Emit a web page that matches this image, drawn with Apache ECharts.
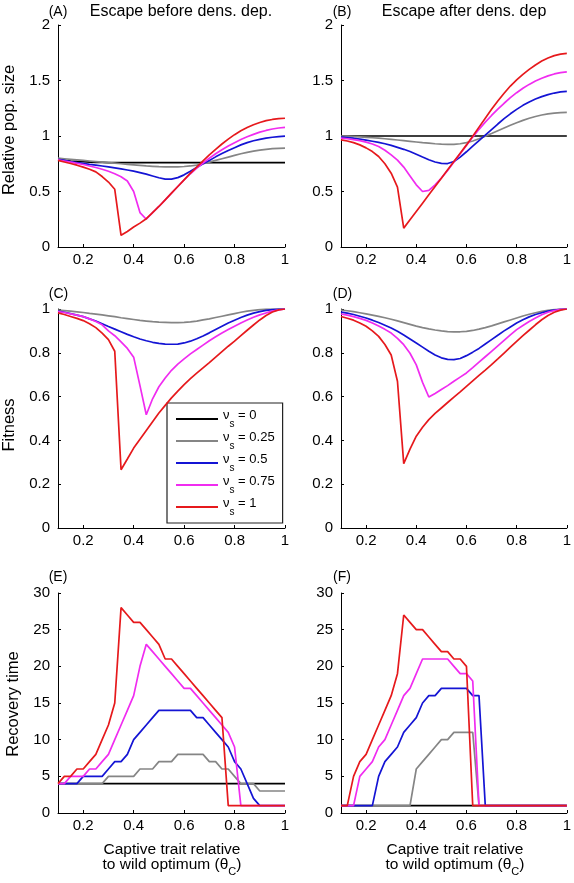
<!DOCTYPE html>
<html>
<head>
<meta charset="utf-8">
<script src="https://cdn.jsdelivr.net/npm/echarts@6/dist/echarts.min.js"></script>
<style>
html,body{margin:0;padding:0;background:#fff;}
#chart{width:574px;height:883px;}
</style>
</head>
<body>
<div id="chart"></div>
<script>
// ---------- data ----------
const theta = [0.1,0.125,0.15,0.175,0.2,0.225,0.25,0.275,0.3,0.325,0.35,0.375,0.4,0.425,0.45,0.475,0.5,0.525,0.55,0.575,0.6,0.625,0.65,0.675,0.7,0.725,0.75,0.775,0.8,0.825,0.85,0.875,0.9,0.925,0.95,0.975,1];
const nuValues = ['0','0.25','0.5','0.75','1'];
const xTicks = [0.2,0.4,0.6,0.8,1];

// (A) relative pop. size, escape before density dependence
const popBefore0   = [0.785,0.78,0.775,0.771,0.768,0.765,0.763,0.762,0.761,0.76,0.76,0.76,0.76,0.76,0.76,0.76,0.76,0.76,0.76,0.76,0.76,0.76,0.76,0.76,0.76,0.76,0.76,0.76,0.76,0.76,0.76,0.76,0.76,0.76,0.76,0.76,0.76];
const popBefore25  = [0.8,0.795,0.79,0.785,0.78,0.775,0.77,0.765,0.76,0.755,0.75,0.745,0.74,0.735,0.73,0.727,0.724,0.722,0.721,0.722,0.725,0.73,0.738,0.75,0.765,0.78,0.795,0.81,0.825,0.84,0.853,0.864,0.873,0.88,0.886,0.889,0.89];
const popBefore50  = [0.79,0.78,0.77,0.761,0.753,0.745,0.738,0.73,0.722,0.713,0.704,0.694,0.683,0.67,0.656,0.64,0.624,0.612,0.612,0.625,0.65,0.682,0.716,0.75,0.78,0.812,0.842,0.87,0.895,0.92,0.94,0.957,0.97,0.981,0.989,0.995,0.998];
const popBefore75  = [0.785,0.775,0.765,0.754,0.743,0.73,0.716,0.7,0.682,0.66,0.633,0.595,0.5,0.31,0.25,0.31,0.365,0.425,0.485,0.545,0.605,0.66,0.71,0.757,0.8,0.84,0.876,0.91,0.94,0.968,0.993,1.015,1.035,1.05,1.063,1.072,1.077];
const popBefore100 = [0.78,0.766,0.752,0.737,0.72,0.7,0.677,0.635,0.585,0.52,0.105,0.14,0.18,0.215,0.255,0.31,0.365,0.425,0.485,0.545,0.605,0.665,0.72,0.775,0.83,0.88,0.928,0.972,1.012,1.047,1.077,1.102,1.122,1.138,1.149,1.156,1.16];

// (B) relative pop. size, escape after density dependence
const popAfter0   = [1,1,1,1,1,1,1,1,1,1,1,1,1,1,1,1,1,1,1,1,1,1,1,1,1,1,1,1,1,1,1,1,1,1,1,1,1];
const popAfter25  = [1.0,0.998,0.995,0.992,0.988,0.984,0.98,0.975,0.97,0.964,0.958,0.952,0.946,0.94,0.935,0.93,0.926,0.924,0.925,0.93,0.94,0.955,0.975,0.998,1.022,1.047,1.072,1.097,1.12,1.141,1.16,1.176,1.189,1.199,1.206,1.21,1.212];
const popAfter50  = [0.99,0.985,0.98,0.972,0.963,0.953,0.942,0.93,0.915,0.898,0.88,0.86,0.835,0.81,0.786,0.766,0.753,0.752,0.77,0.81,0.858,0.908,0.958,1.008,1.058,1.108,1.156,1.2,1.24,1.276,1.307,1.333,1.355,1.373,1.387,1.397,1.402];
const popAfter75  = [0.98,0.975,0.968,0.958,0.945,0.928,0.905,0.872,0.83,0.783,0.72,0.64,0.56,0.5,0.51,0.56,0.622,0.69,0.765,0.84,0.915,0.99,1.06,1.125,1.185,1.242,1.295,1.345,1.39,1.43,1.465,1.495,1.52,1.542,1.559,1.571,1.578];
const popAfter100 = [0.965,0.955,0.94,0.92,0.893,0.86,0.815,0.75,0.665,0.54,0.17,0.245,0.32,0.395,0.47,0.545,0.62,0.695,0.77,0.845,0.92,0.998,1.08,1.16,1.24,1.315,1.385,1.45,1.505,1.555,1.6,1.64,1.675,1.703,1.724,1.738,1.744];

// (C) fitness, escape before density dependence
const fitBefore25  = [0.995,0.993,0.99,0.987,0.984,0.98,0.977,0.973,0.969,0.965,0.96,0.956,0.952,0.948,0.945,0.942,0.94,0.939,0.938,0.938,0.939,0.941,0.945,0.95,0.955,0.961,0.967,0.973,0.979,0.985,0.99,0.994,0.997,0.999,1,1,1];
const fitBefore50  = [0.99,0.985,0.979,0.972,0.965,0.955,0.945,0.933,0.92,0.908,0.896,0.884,0.873,0.863,0.855,0.848,0.843,0.84,0.839,0.84,0.845,0.853,0.864,0.877,0.891,0.906,0.921,0.936,0.949,0.961,0.972,0.981,0.988,0.994,0.997,0.999,1];
const fitBefore75  = [0.988,0.984,0.978,0.972,0.965,0.955,0.943,0.928,0.9,0.878,0.85,0.82,0.78,0.65,0.517,0.59,0.645,0.685,0.72,0.748,0.772,0.795,0.815,0.835,0.855,0.873,0.89,0.906,0.921,0.936,0.95,0.962,0.973,0.982,0.99,0.996,1];
const fitBefore100 = [0.982,0.975,0.966,0.957,0.947,0.933,0.915,0.89,0.86,0.807,0.266,0.315,0.365,0.405,0.445,0.485,0.525,0.56,0.594,0.625,0.655,0.682,0.707,0.731,0.755,0.78,0.805,0.83,0.853,0.878,0.903,0.927,0.95,0.97,0.986,0.996,1];

// (D) fitness, escape after density dependence
const fitAfter25  = [0.995,0.992,0.988,0.983,0.978,0.972,0.966,0.96,0.953,0.946,0.938,0.93,0.922,0.915,0.909,0.904,0.9,0.897,0.896,0.896,0.898,0.902,0.908,0.915,0.923,0.932,0.941,0.95,0.959,0.968,0.976,0.983,0.989,0.994,0.997,0.999,1];
const fitAfter50  = [0.986,0.981,0.975,0.967,0.959,0.949,0.938,0.926,0.913,0.898,0.881,0.863,0.845,0.826,0.807,0.79,0.777,0.77,0.769,0.774,0.787,0.803,0.82,0.84,0.86,0.88,0.9,0.918,0.936,0.951,0.964,0.975,0.983,0.99,0.995,0.998,1];
const fitAfter75  = [0.977,0.972,0.965,0.957,0.948,0.936,0.922,0.907,0.89,0.866,0.837,0.798,0.745,0.665,0.598,0.614,0.632,0.65,0.67,0.689,0.708,0.732,0.757,0.782,0.807,0.832,0.857,0.882,0.906,0.925,0.943,0.959,0.974,0.985,0.993,0.998,1];
const fitAfter100 = [0.966,0.958,0.949,0.936,0.921,0.9,0.875,0.838,0.79,0.67,0.294,0.36,0.419,0.46,0.495,0.523,0.548,0.573,0.598,0.622,0.647,0.672,0.697,0.721,0.746,0.772,0.799,0.826,0.852,0.878,0.903,0.928,0.951,0.97,0.985,0.995,1];

// (E) recovery time, escape before density dependence
const recBefore0   = [4,4,4,4,4,4,4,4,4,4,4,4,4,4,4,4,4,4,4,4,4,4,4,4,4,4,4,4,4,4,4,4,4,4,4,4,4];
const recBefore25  = [4,4,4,4,4,4,4,4,5,5,5,5,5,6,6,6,7,7,7,8,8,8,8,8,7,7,6,6,5,4,4,4,3,3,3,3,3];
const recBefore50  = [4,4,4,4,5,5,5,5,6,7,7,8,10,11,12,13,14,14,14,14,14,14,13,13,12,11,10,9,7,6,4,2,1,1,1,1,1];
const recBefore75  = [4,4,5,5,5,6,6,7,8,10,12,14,16,20,23,22,21,20,19,18,17,17,16,15,14,13,12,11,9,1,1,1,1,1,1,1,1];
const recBefore100 = [4,5,5,6,6,7,8,10,12,15,28,27,26,26,25,24,23,21,21,20,19,18,17,16,15,14,13,1,1,1,1,1,1,1,1,1,1];

// (F) recovery time, escape after density dependence
const recAfter0   = [1,1,1,1,1,1,1,1,1,1,1,1,1,1,1,1,1,1,1,1,1,1,1,1,1,1,1,1,1,1,1,1,1,1,1,1,1];
const recAfter25  = [1,1,1,1,1,1,1,1,1,1,1,1,6,7,8,9,10,10,11,11,11,11,1,1,1,1,1,1,1,1,1,1,1,1,1,1,1];
const recAfter50  = [1,1,1,1,1,1,5,7,8,9,11,12,13,15,16,16,17,17,17,17,17,16,16,1,1,1,1,1,1,1,1,1,1,1,1,1,1];
const recAfter75  = [1,1,1,5,6,7,9,10,12,14,16,17,19,21,21,21,21,21,20,19,19,18,1,1,1,1,1,1,1,1,1,1,1,1,1,1,1];
const recAfter100 = [1,1,5,7,8,10,12,14,16,19,27,26,25,25,24,23,22,22,21,21,20,1,1,1,1,1,1,1,1,1,1,1,1,1,1,1,1];

// ---------- styling / layout ----------
const FONT = 'Liberation Sans, Arial, Helvetica, sans-serif';
const colors = ['#000000','#858585','#1414d4','#f02cf0','#e6191c'];
const names = nuValues.map(v => 'νs = ' + v);

const panels = [
  {grid:{left:58, top:25, width:227, height:222}, ymax:2, yint:0.5, sets:[popBefore0,popBefore25,popBefore50,popBefore75,popBefore100], idx:[0,1,2,3,4]},
  {grid:{left:341,top:25, width:228, height:222}, ymax:2, yint:0.5, sets:[popAfter0,popAfter25,popAfter50,popAfter75,popAfter100], idx:[0,1,2,3,4]},
  {grid:{left:58, top:309,width:227, height:219}, ymax:1, yint:0.2, sets:[fitBefore25,fitBefore50,fitBefore75,fitBefore100], idx:[1,2,3,4]},
  {grid:{left:341,top:309,width:228, height:219}, ymax:1, yint:0.2, sets:[fitAfter25,fitAfter50,fitAfter75,fitAfter100], idx:[1,2,3,4]},
  {grid:{left:58, top:593,width:227, height:220}, ymax:30, yint:5, sets:[recBefore0,recBefore25,recBefore50,recBefore75,recBefore100], idx:[0,1,2,3,4]},
  {grid:{left:341,top:593,width:228, height:220}, ymax:30, yint:5, sets:[recAfter0,recAfter25,recAfter50,recAfter75,recAfter100], idx:[0,1,2,3,4]}
];

const grids = [], xAxes = [], yAxes = [], series = [];
panels.forEach((p, k) => {
  grids.push(Object.assign({containLabel:false}, p.grid));
  xAxes.push({
    type:'value', gridIndex:k, min:0.1, max:1,
    axisLine:{show:true, onZero:false, lineStyle:{color:'#000', width:1}},
    axisTick:{show:true, inside:true, length:3, customValues:xTicks, lineStyle:{color:'#000'}},
    axisLabel:{show:true, customValues:xTicks, margin:5, fontFamily:FONT, fontSize:15, color:'#000',
      formatter: v => String(v)},
    splitLine:{show:false}
  });
  yAxes.push({
    type:'value', gridIndex:k, min:0, max:p.ymax, interval:p.yint,
    axisLine:{show:true, onZero:false, lineStyle:{color:'#000', width:1}},
    axisTick:{show:true, inside:true, length:3, lineStyle:{color:'#000'}},
    axisLabel:{show:true, margin:8, fontFamily:FONT, fontSize:15, color:'#000'},
    splitLine:{show:false}
  });
  p.sets.forEach((arr, j) => {
    const ci = p.idx[j];
    series.push({
      type:'line', name:names[ci], xAxisIndex:k, yAxisIndex:k,
      data: theta.map((t, i) => [t, arr[i]]),
      symbol:'none', showSymbol:false, smooth:false,
      lineStyle:{color:colors[ci], width:1.7},
      itemStyle:{color:colors[ci]},
      z: 2 + ci, animation:false, silent:true
    });
  });
});

function txt(x, y, text, size, opts) {
  return Object.assign({
    type:'text', x:x, y:y, silent:true,
    style:{text:text, fontFamily:FONT, fontSize:size, fill:'#000', align:'center', verticalAlign:'middle'}
  }, opts || {});
}

const subRich = {
  a:{fontFamily:FONT, fontSize:15.5, lineHeight:18, verticalAlign:'top', fill:'#000'},
  b:{fontFamily:FONT, fontSize:11, verticalAlign:'top', padding:[9,0,0,0], fill:'#000'}
};

const graphics = [
  txt(58, 12, '(A)', 14), txt(181, 11.5, 'Escape before dens. dep.', 16),
  txt(342, 12, '(B)', 14), txt(464, 11.5, 'Escape after dens. dep', 16),
  txt(58.5, 294, '(C)', 14), txt(342.5, 294, '(D)', 14),
  txt(58, 577, '(E)', 14), txt(342, 577, '(F)', 14),
  txt(9.5, 130, 'Relative pop. size', 16.5, {rotation:Math.PI/2}),
  txt(9.5, 425, 'Fitness', 16.5, {rotation:Math.PI/2}),
  txt(13, 704, 'Recovery time', 16.5, {rotation:Math.PI/2}),
  txt(172, 850, 'Captive trait relative', 15.5),
  txt(455, 850, 'Captive trait relative', 15.5)
];
[172, 455].forEach(cx => {
  graphics.push({
    type:'text', x:cx, y:867, silent:true,
    style:{text:'{a|to wild optimum (θ}{b|C}{a|)}', rich:subRich, align:'center', verticalAlign:'middle', fontFamily:FONT, fontSize:15.5, fill:'#000'}
  });
});

const chart = echarts.init(document.getElementById('chart'), null, {renderer:'canvas'});
chart.setOption({
  backgroundColor:'#fff',
  animation:false,
  grid:grids, xAxis:xAxes, yAxis:yAxes, series:series,
  legend:{
    show:true, orient:'vertical', left:167, top:403,
    data:names, selectedMode:false,
    icon:'path://M0,0H42V2H0Z', symbolKeepAspect:true,
    itemWidth:42, itemHeight:14, itemGap:2,
    padding:[6,8,6,9],
    borderColor:'#222', borderWidth:1.2, backgroundColor:'#fff',
    formatter: name => {
      const v = name.replace('νs = ', '');
      return '{n|ν}{s|s}{n| = ' + v + '}';
    },
    textStyle:{
      fontFamily:FONT, fontSize:13, color:'#000',
      rich:{
        n:{fontFamily:FONT, fontSize:13, lineHeight:14, verticalAlign:'top', color:'#000'},
        s:{fontFamily:FONT, fontSize:10, verticalAlign:'top', padding:[10,0,0,0], color:'#000'}
      }
    }
  },
  graphic:graphics
});
</script>
</body>
</html>
